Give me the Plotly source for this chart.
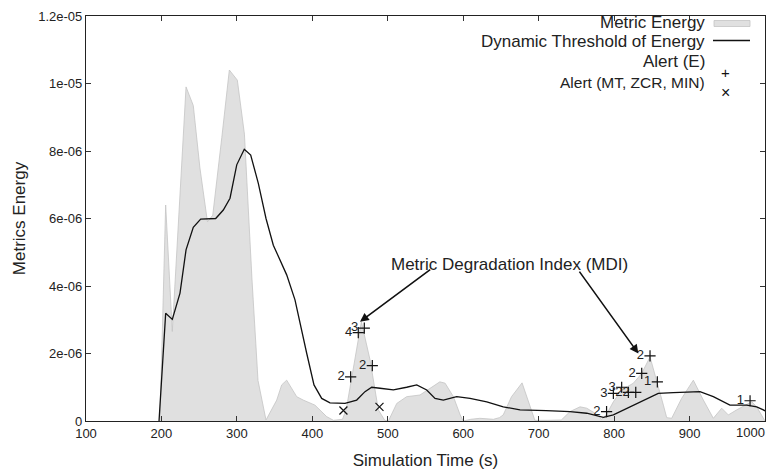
import plotly.graph_objects as go

# ---- data (y in units of 1e-6) ----
energy_x = [198, 205.6, 214.4, 232.6, 242.2, 251, 261, 268, 280, 290, 300.6, 310, 320, 328, 338.6,
            352.8, 359.4, 366, 379.3, 388, 403.5, 419, 428, 440, 445, 465, 476.5, 487.5, 496,
            500.8, 511.9, 525, 542.7, 556, 569, 576, 587, 596, 600, 610, 622, 640, 648,
            653, 664, 678, 686, 695, 712, 730, 741.6, 754.8, 763.7, 774.7, 783.5,
            790, 799, 810, 825.5, 836.6, 847.6, 856.5, 865.3, 869.7, 876.3, 889.5, 905, 918.3,
            931.5, 942.6, 951.4, 962.5, 973.5, 982.4, 989, 997.8, 1000]
energy_y = [0, 6.4, 2.65, 9.9, 9.35, 7.5, 5.9, 6.1, 8.4, 10.4, 10.1, 8.5, 4.2, 1.2, 0.03,
            0.62, 1.07, 1.21, 0.72, 0.62, 0.47, 0.13, 0.02, 0.05, 0.35, 2.94, 1.81, 0.33, 0.02,
            0.0, 0.52, 0.72, 0.77, 0.97, 1.16, 1.12, 0.72, 0.18, 0.0, 0.05, 0.08, 0.05, 0.1,
            0.18, 0.72, 1.13, 0.6, 0.02, 0.02, 0.03, 0.28, 0.42, 0.38, 0.23, 0.05,
            0.2, 0.57, 0.92, 1.12, 1.41, 1.9, 1.21, 0.47, 0.1, 0.08, 0.67, 1.21, 0.62,
            0.08, 0.38, 0.18, 0.33, 0.47, 0.57, 0.42, 0.08, 0.0]

thr_x = [196.8, 205.6, 214.4, 224.6, 232.6, 242.2, 252, 262.1, 271.9, 282, 290.9, 299.8, 309.8,
         318.3, 328.4, 338.6, 348.3, 366, 377, 392.6, 402.2, 412.4, 423.4, 443.3, 458.8, 469.8,
         478.7, 489.7, 507.4, 525, 538.4, 551.6, 562.6, 573.6, 591.3, 609, 631.2, 653.1, 675.3,
         710, 741.6, 763.7, 785.7, 799, 821, 838.7, 858.5, 878.5, 913.8, 931.5, 953.5, 975.8,
         989, 997.8, 1000]
thr_y = [0, 3.19, 3.01, 3.79, 5.07, 5.74, 5.98, 5.98, 6.0, 6.25, 6.6, 7.59, 8.05,
         7.88, 7.04, 6.0, 5.21, 4.33, 3.59, 2.0, 1.07, 0.67, 0.54, 0.52, 0.62, 0.87,
         1.0, 0.97, 0.92, 1.0, 1.07, 0.92, 0.67, 0.62, 0.72, 0.67, 0.57, 0.42, 0.33,
         0.31, 0.28, 0.23, 0.11, 0.18, 0.42, 0.62, 0.82, 0.84, 0.87, 0.72, 0.47, 0.47,
         0.42, 0.33, 0.3]

alert_e_x = [450.8, 460.9, 468.9, 479.5, 790, 799, 810, 818.9, 828.7, 836.6, 847.6, 857.3, 980.2]
alert_e_y = [1.31, 2.62, 2.75, 1.64, 0.28, 0.82, 1.0, 0.85, 0.85, 1.41, 1.93, 1.16, 0.6]
alert_e_lbl = ["2", "4", "3", "2", "2", "3", "3", "2", "2", "2", "2", "1", "1"]

alert_m_x = [441.2, 489]
alert_m_y = [0.31, 0.42]

x_ticks = [100, 200, 300, 400, 500, 600, 700, 800, 900, 1000]
x_ticktext = ["100", "200", "300", "400", "500", "600", "700", "800", "900", ""]
x_last_label = "1000"
y_ticks = [0, 2, 4, 6, 8, 10, 12]
y_ticktext = ["0", "2e-06", "4e-06", "6e-06", "8e-06", "1e-05", "1.2e-05"]

S = 1e-6
FONT = "Liberation Sans, Arial, Helvetica, sans-serif"

fig = go.Figure()
fig.add_trace(go.Scatter(x=energy_x, y=[v * S for v in energy_y], mode="lines",
                         fill="tozeroy", fillcolor="#e0e0e0",
                         line=dict(color="#c4c4c4", width=0.8), showlegend=False))
fig.add_trace(go.Scatter(x=thr_x, y=[v * S for v in thr_y], mode="lines",
                         line=dict(color="#111111", width=1.3), showlegend=False))
fig.add_trace(go.Scatter(x=alert_e_x, y=[v * S for v in alert_e_y], mode="markers+text",
                         text=alert_e_lbl, textposition="middle left",
                         textfont=dict(family=FONT, size=13, color="#222"),
                         marker=dict(symbol="cross-thin", size=8,
                                     line=dict(color="#111", width=1.2)),
                         showlegend=False))
fig.add_trace(go.Scatter(x=alert_m_x, y=[v * S for v in alert_m_y], mode="markers",
                         marker=dict(symbol="x-thin", size=8,
                                     line=dict(color="#111", width=1.2)),
                         showlegend=False))

# MDI annotation and arrows
fig.add_annotation(x=660.7, y=4.65 * S, text="Metric Degradation Index (MDI)", showarrow=False,
                   font=dict(family=FONT, size=17, color="#222"))
fig.add_annotation(x=463.2, y=2.94 * S, ax=558.2, ay=4.52 * S, axref="x", ayref="y",
                   text="", showarrow=True, arrowhead=2, arrowsize=1.1, arrowwidth=1.6,
                   arrowcolor="#111")
fig.add_annotation(x=832.1, y=2.0 * S, ax=752.6, ay=4.47 * S, axref="x", ayref="y",
                   text="", showarrow=True, arrowhead=2, arrowsize=1.1, arrowwidth=1.6,
                   arrowcolor="#111")

W, H = 767, 471
L, R, T, B = 86, 2, 16, 50
pw, ph = W - L - R, H - T - B


def px(xp):
    # screen pixel -> paper coordinate
    return (xp - L) / pw


def py(yp):
    return (H - B - yp) / ph


legend_rows = [("Metric Energy", 23, 17), ("Dynamic Threshold of Energy", 41, 17),
               ("Alert (E)", 61, 17), ("Alert (MT, ZCR, MIN)", 83, 15.5)]
for txt, yy, fs in legend_rows:
    fig.add_annotation(xref="paper", yref="paper", x=px(707), y=py(yy), text=txt,
                       showarrow=False, xanchor="right", yanchor="middle",
                       font=dict(family=FONT, size=fs, color="#222"))
fig.add_shape(type="rect", xref="paper", yref="paper", x0=px(714), x1=px(750),
              y0=py(26.5), y1=py(20.5), fillcolor="#e0e0e0", line=dict(color="#c4c4c4", width=0.8))
fig.add_shape(type="line", xref="paper", yref="paper", x0=px(713), x1=px(750),
              y0=py(40.5), y1=py(40.5), line=dict(color="#111", width=1.3))
fig.add_annotation(xref="paper", yref="paper", x=px(732), y=py(62), text="+", showarrow=False,
                   font=dict(family=FONT, size=15, color="#111"))
fig.add_annotation(xref="paper", yref="paper", x=px(732), y=py(82), text="×", showarrow=False,
                   font=dict(family=FONT, size=16, color="#111"))
# last x tick label, kept inside the window
fig.add_annotation(xref="paper", yref="paper", x=px(767), y=py(432), text=x_last_label,
                   showarrow=False, xanchor="right", yanchor="middle",
                   font=dict(family=FONT, size=13, color="#222"))

fig.update_layout(
    width=W, height=H,
    margin=dict(l=L, r=R, t=T, b=B, autoexpand=False),
    plot_bgcolor="white", paper_bgcolor="white",
    font=dict(family=FONT, color="#222"),
    showlegend=False,
)
fig.update_xaxes(range=[100, 1000], tickvals=x_ticks, ticktext=x_ticktext, ticks="inside",
                 ticklen=5, tickcolor="#333", showline=True, linecolor="#222", linewidth=1.2,
                 mirror="ticks", showgrid=False, zeroline=False, automargin=False,
                 tickfont=dict(family=FONT, size=13, color="#222"),
                 title=dict(text="Simulation Time (s)", font=dict(family=FONT, size=17, color="#222"),
                            standoff=14))
fig.update_yaxes(range=[0, 12 * S], tickvals=[v * S for v in y_ticks], ticktext=y_ticktext,
                 ticks="inside", ticklen=5, tickcolor="#333", showline=True, linecolor="#222",
                 linewidth=1.2, mirror="ticks", showgrid=False, zeroline=False, automargin=False,
                 tickfont=dict(family=FONT, size=13, color="#222"),
                 title=dict(text="Metrics Energy", font=dict(family=FONT, size=17, color="#222"),
                            standoff=8))

fig.write_html("out.html", config={"displayModeBar": False},
               post_script="document.body.style.margin='0';document.body.style.overflow='hidden';")
